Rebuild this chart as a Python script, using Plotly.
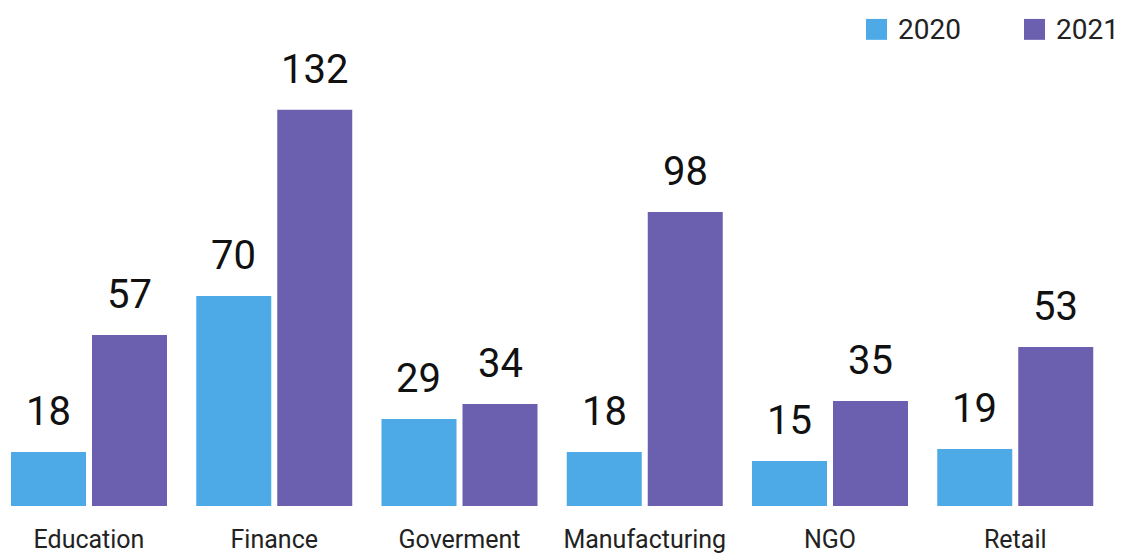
import plotly.graph_objects as go

categories = ["Education", "Finance", "Goverment", "Manufacturing", "NGO", "Retail"]
series_names = ["2020", "2021"]
values_2020 = [18, 70, 29, 18, 15, 19]
values_2021 = [57, 132, 34, 98, 35, 53]
colors = ["#4DAAE7", "#6B60AF"]

W, H = 1121, 554
ML, MR, MT, MB = 0, 0, 0, 46
cat_px = 185.25
x0 = -89 / cat_px
x1 = x0 + (W - ML - MR) / cat_px
bargap = 0.1255
slot_px = cat_px * (1 - bargap) / 2

fig = go.Figure()
for name, vals, col in zip(series_names, [values_2020, values_2021], colors):
    fig.add_trace(go.Bar(x=categories, y=vals, name=name, marker_color=col,
                         marker_line_width=0, showlegend=False))

font = "Roboto, Arial, sans-serif"
ann = []
for i, vals in enumerate([values_2020, values_2021]):
    shift = (i - 0.5) * slot_px
    for c, v in zip(categories, vals):
        ann.append(dict(x=c, y=v, text=str(v), showarrow=False, xref="x", yref="y",
                        xshift=shift, yshift=15, yanchor="bottom", xanchor="center",
                        font=dict(family=font, size=40, color="#111111")))

# manual legend
ph = H - MT - MB
shapes = []
leg_x = [866, 1024]
for lx, name, col in zip(leg_x, series_names, colors):
    shapes.append(dict(type="rect", xref="paper", yref="paper",
                       x0=lx / W, x1=(lx + 21) / W, y0=(ph - 40) / ph, y1=(ph - 19) / ph,
                       fillcolor=col, line_width=0))
    ann.append(dict(x=(lx + 30) / W, y=(ph - 29.5) / ph, xref="paper", yref="paper",
                    text=name, showarrow=False, xanchor="left", yanchor="middle",
                    font=dict(family=font, size=28, color="#222222")))

fig.update_layout(
    width=W, height=H,
    margin=dict(l=ML, r=MR, t=MT, b=MB, pad=0),
    paper_bgcolor="white", plot_bgcolor="white",
    barmode="group", bargap=bargap, bargroupgap=0.074,
    xaxis=dict(range=[x0, x1], showline=False, ticks="", showgrid=False, zeroline=False,
               ticklabelstandoff=16,
               tickfont=dict(family=font, size=25, color="#222222")),
    yaxis=dict(range=[0, ph / 3.013], visible=False, showgrid=False, zeroline=False),
    annotations=ann, shapes=shapes,
)
fig.write_html("out.html")
